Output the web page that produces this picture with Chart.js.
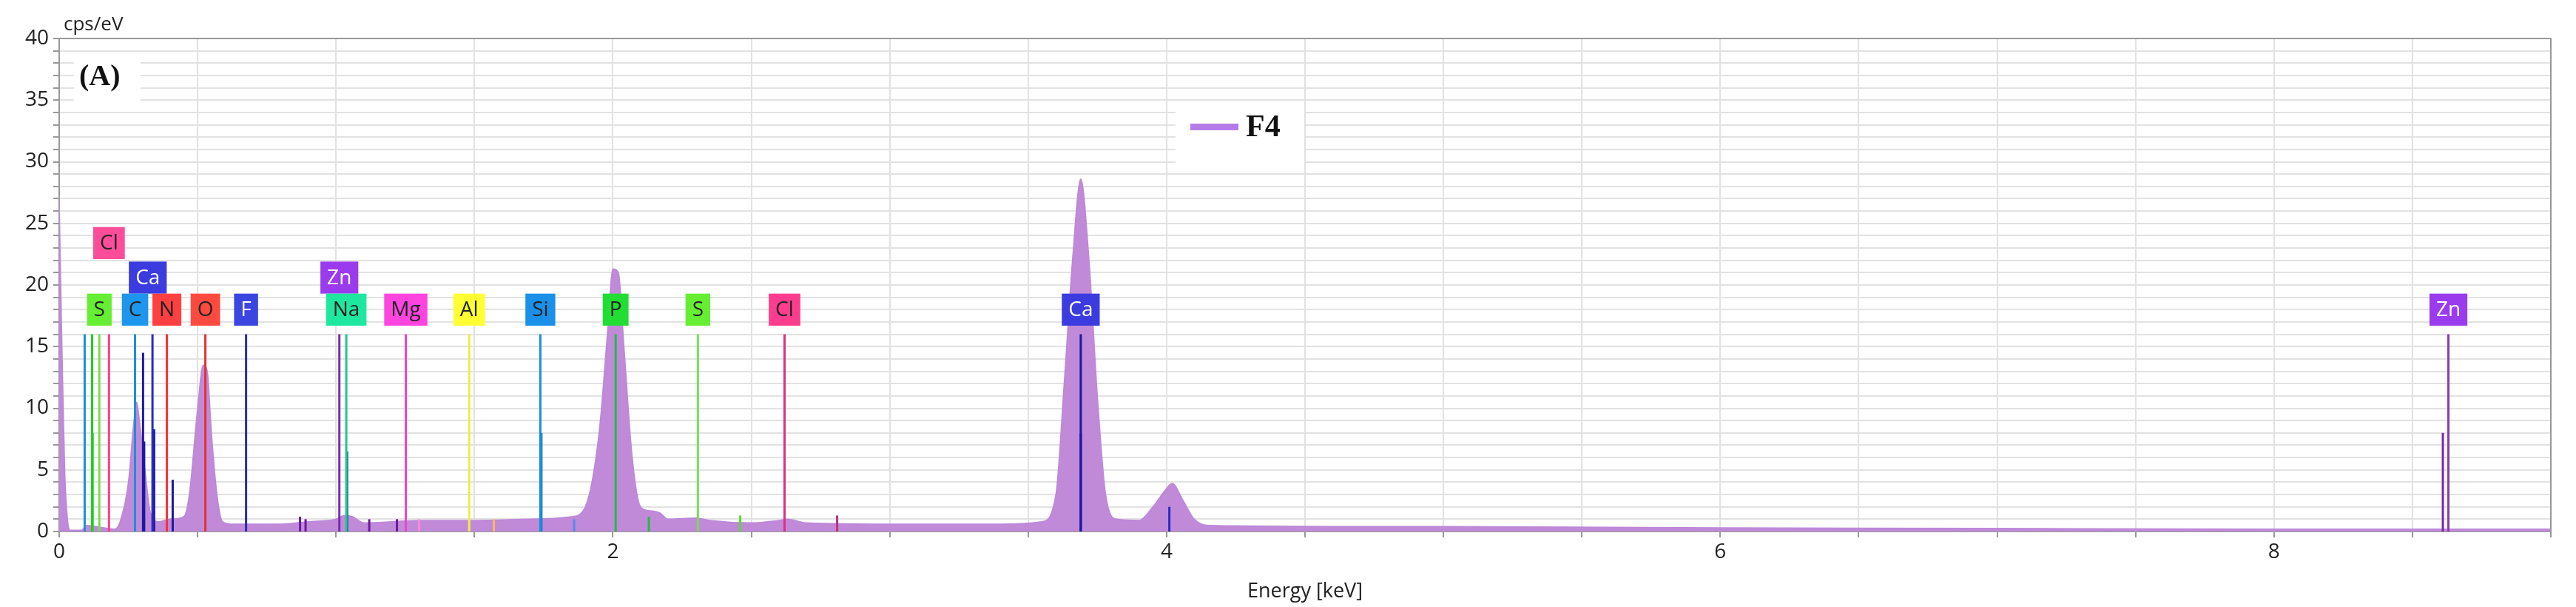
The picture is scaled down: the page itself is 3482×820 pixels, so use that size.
<!DOCTYPE html>
<html><head><meta charset="utf-8">
<script src="https://cdn.jsdelivr.net/npm/chart.js@4.4.1/dist/chart.umd.min.js"></script>
<style>html,body{margin:0;padding:0;background:#fff}#c{display:block}</style>
</head><body>
<div style="width:3482px;height:820px"><canvas id="c"></canvas></div>
<script>
const spectrumE = [0,0.01,0.02,0.03,0.04,0.08,0.1,0.2,0.22,0.25,0.27,0.28,0.29,0.31,0.33,0.36,0.4,0.45,0.47,0.5,0.52,0.535,0.55,0.57,0.59,0.62,0.8,0.9,1.0,1.03,1.06,1.1,1.3,1.5,1.7,1.85,1.9,1.95,1.98,2.0,2.02,2.04,2.07,2.1,2.13,2.17,2.2,2.3,2.35,2.5,2.6,2.63,2.7,3.0,3.4,3.55,3.6,3.63,3.66,3.69,3.72,3.75,3.78,3.82,3.9,3.95,4.0,4.02,4.06,4.1,4.15,5,6,7,8,9];
const spectrumC = [27,15,5,1,0.1,0.1,0.5,0.2,0.8,4,9,10.5,9,5,1.5,0.8,1,1.2,3,10,13.5,13,8,3,0.8,0.6,0.6,0.8,1,1.3,1.2,0.7,0.9,0.9,1.0,1.2,2,8,16,21.3,21,15,6,2,1.7,1.5,1,1.1,0.9,0.7,0.9,1,0.7,0.6,0.6,0.8,3,12,22,28.6,22,11,3,1,0.9,2,3.5,3.9,2.5,1,0.5,0.4,0.3,0.25,0.2,0.2];

const lineE =      [0.092,0.119,0.121,0.145,0.18,0.274,0.303,0.307,0.337,0.343,0.389,0.41,0.528,0.675,0.87,0.89,1.012,1.037,1.04,1.12,1.22,1.252,1.3,1.481,1.57,1.738,1.742,1.86,2.01,2.13,2.307,2.46,2.62,2.81,3.69,3.69,4.01,8.61,8.63];
const lineH =      [16,16,8,16,16,16,14.5,7.3,16,8.3,16,4.2,16,16,1.2,1,16,16,6.5,1,1,16,1,16,1,16,8,1,16,1.2,16,1.3,16,1.3,16,8,2,8,16];
const lineColor =  ['#1a8fd8','#22cc22','#22dd22','#77dd55','#ff3d8f','#1a8fd8','#1a1aa0','#1a1aa0','#2a2ac0','#1a1aa0','#ff3030','#1a1aa0','#e83030','#2a2ab0','#6a1aa0','#6a1aa0','#7a2ab0','#1ec890','#1a50a0','#6a1aa0','#6a1aa0','#ee44cc','#ff88dd','#eeee44','#ffbb55','#1a8fd8','#1a7fd0','#5588ee','#22bb44','#22bb44','#77dd55','#55dd33','#dd3080','#c0307a','#1a1aa0','#1a1aa0','#2a2ac0','#7a2aa0','#8a3ab0'];

const labText =  ['Cl','Ca','Zn','S','C','N','O','F','Na','Mg','Al','Si','P','S','Cl','Ca','Zn'];
const labE =     [0.18,0.32,1.012,0.145,0.274,0.389,0.528,0.675,1.037,1.252,1.481,1.738,2.01,2.307,2.62,3.69,8.63];
const labY =     [23.4,20.6,20.6,18,18,18,18,18,18,18,18,18,18,18,18,18,18];
const labBg =    ['#ff4d9a','#3b3be0','#9b3bee','#66ee33','#1e96ee','#ff4040','#ff4a40','#3b46e0','#1ee8a0','#ff44e0','#ffff33','#1a90e8','#22dd33','#66ee33','#ff3d8f','#3b3be0','#9b3bee'];
const labFg =    ['#222','#fff','#fff','#222','#222','#222','#222','#fff','#222','#222','#222','#222','#222','#222','#222','#fff','#fff'];

const xTickLabels = [0,2,4,6,8];
const yTickLabels = [0,5,10,15,20,25,30,35,40];

const datasets = [{
  label:'F4', data: spectrumE.map((e,i)=>({x:e,y:spectrumC[i]})),
  borderColor:'#bd88d9', backgroundColor:'#c08ad9', borderWidth:1.5, fill:'origin',
  pointRadius:0, cubicInterpolationMode:'monotone', order:2
}];
lineE.forEach((e,i)=>datasets.push({
  data:[{x:e,y:0},{x:e,y:lineH[i]}], borderColor:lineColor[i], borderWidth:3,
  pointRadius:0, fill:false, order:1
}));

const deco = {
  id:'deco',
  afterDraw(ch){
    const c=ch.ctx, xs=ch.scales.x, ys=ch.scales.y, a=ch.chartArea;
    c.save();
    c.strokeStyle='#999'; c.lineWidth=2;
    c.beginPath(); c.moveTo(a.left,a.top); c.lineTo(a.right,a.top); c.lineTo(a.right,a.bottom); c.stroke();
    // element labels
    c.font='28px "Open Sans", "DejaVu Sans", sans-serif';
    c.textAlign='center'; c.textBaseline='middle';
    const bh = ys.getPixelForValue(0)-ys.getPixelForValue(2.6);
    labText.forEach((t,i)=>{
      const w = c.measureText(t).width+18;
      const cx = xs.getPixelForValue(labE[i]), cy = ys.getPixelForValue(labY[i]);
      c.fillStyle=labBg[i]; c.fillRect(cx-w/2, cy-bh/2, w, bh);
      c.fillStyle=labFg[i]; c.fillText(t, cx, cy+1);
    });
    // (A)
    c.fillStyle='#fff'; c.fillRect(100,70,90,70);
    c.fillStyle='#111'; c.font='bold 40px "Liberation Serif", serif'; c.textAlign='left';
    c.fillText('(A)',107,105);
    // legend
    c.fillStyle='#fff'; c.fillRect(1589,138,174,85);
    c.fillStyle='#b57be8'; c.fillRect(1609,167,65,9);
    c.fillStyle='#111'; c.font='bold 42px "Liberation Serif", serif';
    c.fillText('F4',1684,173);
    // unit
    c.font='26px "Open Sans", "DejaVu Sans", sans-serif'; c.fillStyle='#222';
    c.fillText('cps/eV',86,34);
    c.restore();
  }
};

new Chart(document.getElementById('c'), {
  type:'line',
  data:{datasets},
  plugins:[deco],
  options:{
    responsive:true, maintainAspectRatio:false, animation:false,
    layout:{padding:{left:0,right:34,top:52,bottom:0}},
    plugins:{legend:{display:false},tooltip:{enabled:false}},
    scales:{
      x:{type:'linear',min:0,max:9,
        afterFit(s){s.height=102;},
        ticks:{stepSize:0.5,autoSkip:false,maxRotation:0,color:'#222',
          font:{size:28,family:'"Open Sans", "DejaVu Sans", sans-serif'},
          callback:v=>xTickLabels.includes(v)?String(v):''},
        grid:{color:'#e2e2e2',lineWidth:2,tickLength:8,tickColor:'#999'},
        border:{color:'#999',width:2},
        title:{display:true,text:'Energy [keV]',color:'#222',padding:{top:0},
          font:{size:27,family:'"Open Sans", "DejaVu Sans", sans-serif'}}
      },
      y:{min:0,max:40,
        afterFit(s){s.width=80;},
        ticks:{stepSize:1,autoSkip:false,color:'#222',padding:6,
          font:{size:28,family:'"Open Sans", "DejaVu Sans", sans-serif'},
          callback:v=>yTickLabels.includes(v)?String(v):''},
        grid:{color:'#e2e2e2',lineWidth:2,tickLength:8,tickColor:'#999'},
        border:{color:'#999',width:2}
      }
    }
  }
});
</script>
</body></html>
